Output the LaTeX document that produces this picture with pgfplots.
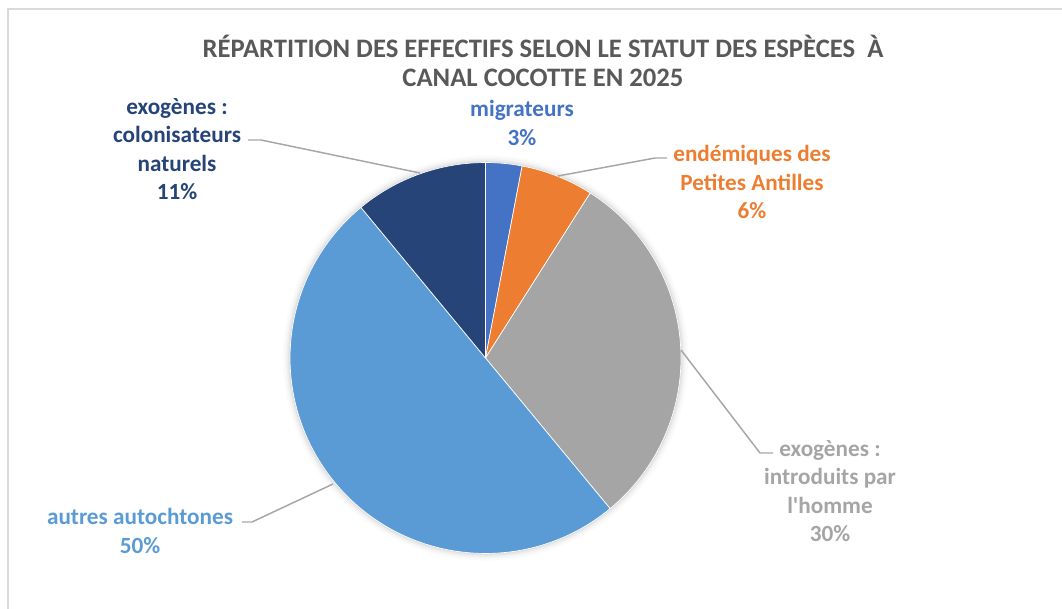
\documentclass[border=0pt]{standalone}
\usepackage{pgfplots}
\pgfplotsset{compat=1.18}
\usepackage{pgfplotstable}
\usepackage{fontspec}
\setmainfont{Carlito}
\definecolor{cMig}{HTML}{4472C4}
\definecolor{cEnd}{HTML}{ED7D31}
\definecolor{cInt}{HTML}{A5A5A5}
\definecolor{cAut}{HTML}{5B9BD5}
\definecolor{cCol}{HTML}{264478}
\definecolor{cTitle}{HTML}{595959}
\definecolor{cLead}{HTML}{A6A6A6}
\definecolor{cFrame}{HTML}{D9D9D9}
% slice data: start and end (cumulative %), values 3, 6, 30, 50, 11
\pgfplotstableread{
name start end
migrateurs 0 3
endemiques 3 9
introduits 9 39
autochtones 39 89
colonisateurs 89 100
}\piedata
\newcommand{\getslice}[3]{%
  \pgfplotstablegetelem{#1}{start}\of\piedata\expandafter\xdef\csname #2\endcsname{\pgfplotsretval}%
  \pgfplotstablegetelem{#1}{end}\of\piedata\expandafter\xdef\csname #3\endcsname{\pgfplotsretval}}
\getslice{0}{sA}{eA}
\getslice{1}{sB}{eB}
\getslice{2}{sC}{eC}
\getslice{3}{sD}{eD}
\getslice{4}{sE}{eE}
\newcommand{\pieslice}[3]{%
  \fill[#3, draw=white, line width=0.5pt, line join=round]
    (axis cs:485.5,251) -- ++({90-3.6*#1}:146.6pt)
    arc[start angle={90-3.6*#1}, end angle={90-3.6*#2}, radius=146.6pt] -- cycle;}
\begin{document}
\begin{tikzpicture}
\begin{axis}[
  width=796.5pt, height=456.75pt, scale only axis,
  xmin=0, xmax=1062, ymin=0, ymax=609,
  hide axis, clip=false]
\coordinate (bl) at (rel axis cs:0,0);
\coordinate (tr) at (rel axis cs:1,1);
% frame
\draw[cFrame, line width=1.2pt] (axis cs:8,0) -- (axis cs:8,600) -- (axis cs:1062,600);
% shadow
\fill[black, opacity=0.015] (axis cs:485.5,251) circle[radius=152pt];
\fill[black, opacity=0.02] (axis cs:485.5,251) circle[radius=150.5pt];
\fill[black, opacity=0.03] (axis cs:485.5,251) circle[radius=149.2pt];
\fill[black, opacity=0.04] (axis cs:485.5,251) circle[radius=148pt];
\fill[black, opacity=0.05] (axis cs:485.5,251) circle[radius=147.2pt];
% slices
\pieslice{\sA}{\eA}{cMig}
\pieslice{\sB}{\eB}{cEnd}
\pieslice{\sC}{\eC}{cInt}
\pieslice{\sD}{\eD}{cAut}
\pieslice{\sE}{\eE}{cCol}
% leader lines
\draw[cLead, line width=1.1pt] (axis cs:248,469) -- (axis cs:261,469) -- (axis cs:420,436);
\draw[cLead, line width=1.1pt] (axis cs:558,433) -- (axis cs:655,451) -- (axis cs:667,451);
\draw[cLead, line width=1.1pt] (axis cs:681,259) -- (axis cs:760,156) -- (axis cs:773,156);
\draw[cLead, line width=1.1pt] (axis cs:242,87) -- (axis cs:252,87) -- (axis cs:333,125);
% title
\node[font=\fontsize{20}{21.6}\selectfont\bfseries, text=cTitle, align=center]
  at (axis cs:543,548) {RÉPARTITION DES EFFECTIFS SELON LE STATUT DES ESPÈCES\ \ À\\CANAL COCOTTE EN 2025};
% labels
\tikzset{lab/.style={font=\fontsize{17.4}{21.2}\selectfont\bfseries, align=center, inner sep=0pt}}
\node[lab, text=cMig] at (axis cs:522,486) {migrateurs\\3\%};
\node[lab, text=cEnd] at (axis cs:752,427) {endémiques des\\Petites Antilles\\6\%};
\node[lab, text=cInt] at (axis cs:830,118) {exogènes :\\introduits par\\l\textquotesingle homme\\30\%};
\node[lab, text=cAut] at (axis cs:140,78) {autres autochtones\\50\%};
\node[lab, text=cCol] at (axis cs:177,460) {exogènes :\\colonisateurs\\naturels\\11\%};
\end{axis}
\pgfresetboundingbox
\useasboundingbox (bl) rectangle (tr);
\end{tikzpicture}
\end{document}
